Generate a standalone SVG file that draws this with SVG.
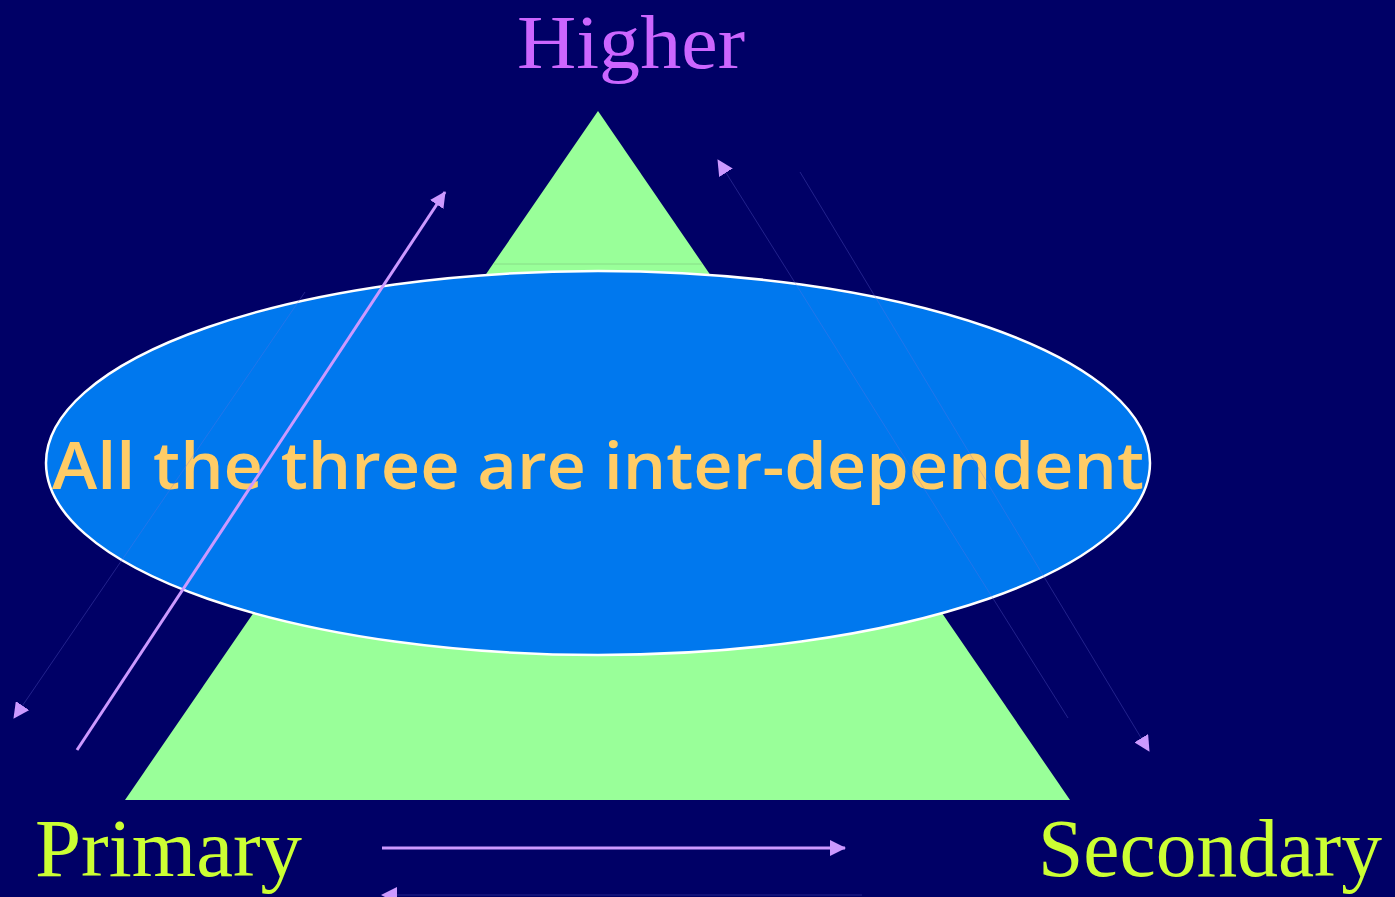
<svg xmlns="http://www.w3.org/2000/svg" width="1395" height="897" viewBox="0 0 1395 897">
<defs>
<style>
.lbl{font-family:"Liberation Serif","Times New Roman",serif;font-size:82px}
.main{font-family:"Comic Sans MS","Open Sans","DejaVu Sans",sans-serif;font-size:66px;font-weight:600;fill:#FFCC66}
.thick{stroke:#CC99FF;stroke-width:3;fill:none}
.faint{stroke:#7070E0;stroke-opacity:0.3;stroke-width:1;fill:none}
</style>
<marker id="ah" viewBox="0 0 16 16" refX="15" refY="8" markerWidth="16" markerHeight="16" markerUnits="userSpaceOnUse" orient="auto">
<path d="M0,0 L16,8 L0,16 z" fill="#CC99FF"/>
</marker>
</defs>
<rect width="1395" height="897" fill="#000066"/>
<g id="triangle">
<polygon points="598,111 1070,800 125,800" fill="#99FF99"/>
<line x1="494" y1="264" x2="702" y2="264" stroke="#88DD88" stroke-width="1"/>
</g>
<g id="ellipse">
<ellipse cx="598" cy="463" rx="552" ry="192" fill="#0078EE" stroke="#FFFFFF" stroke-width="2.5"/>
<text class="main" x="52" y="489" textLength="1092" lengthAdjust="spacingAndGlyphs">All the three are inter-dependent</text>
</g>
<g id="higher"><text class="lbl" x="517" y="68" fill="#CC66FF" style="font-size:76px" textLength="228" lengthAdjust="spacingAndGlyphs">Higher</text></g>
<g id="primary"><text class="lbl" x="35" y="876" fill="#CCFF33" textLength="267" lengthAdjust="spacingAndGlyphs">Primary</text></g>
<g id="secondary"><text class="lbl" x="1038" y="876" fill="#CCFF33" textLength="344" lengthAdjust="spacingAndGlyphs">Secondary</text></g>
<g id="connectors">
<line class="thick" x1="77" y1="750" x2="445" y2="192" marker-end="url(#ah)"/>
<line class="thick" x1="382" y1="848" x2="845" y2="848" marker-end="url(#ah)"/>
<line class="faint" x1="305" y1="292" x2="14" y2="718" marker-end="url(#ah)"/>
<line class="faint" x1="1068" y1="718" x2="718" y2="160" marker-end="url(#ah)"/>
<line class="faint" x1="800" y1="172" x2="1149" y2="751" marker-end="url(#ah)"/>
<line class="faint" x1="862" y1="895" x2="382" y2="895" marker-end="url(#ah)"/>
</g>
</svg>
